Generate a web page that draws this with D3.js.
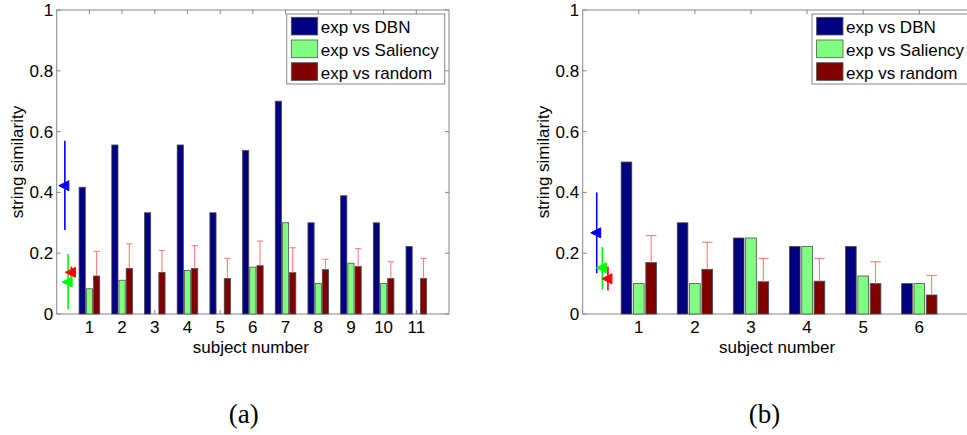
<!DOCTYPE html>
<html lang="en">
<head>
<meta charset="UTF-8">
<title>String similarity per subject</title>
<script src="https://cdnjs.cloudflare.com/ajax/libs/d3/7.8.5/d3.min.js"></script>
<style>
  body { margin: 0; background: #fff; }
  svg { display: block; font-family: "Liberation Sans", Arial, Helvetica, sans-serif; }
</style>
</head>
<body>
<svg id="chart" width="967" height="435"></svg>
<script>
// ---- data ----
const seriesNames = ["exp vs DBN", "exp vs Saliency", "exp vs random"];
const seriesColors = ["#000080", "#80ff80", "#800000"];
const markerColors = ["#0000ff", "#00ff00", "#ff0000"];
const yTicks = [0, 0.2, 0.4, 0.6, 0.8, 1];
const yTickLabels = ["0", "0.2", "0.4", "0.6", "0.8", "1"];

// panel (a)
const subjectsA = [1, 2, 3, 4, 5, 6, 7, 8, 9, 10, 11];
const dbnA = [0.417, 0.556, 0.333, 0.556, 0.333, 0.538, 0.700, 0.300, 0.389, 0.300, 0.222];
const salA = [0.083, 0.111, 0, 0.143, 0, 0.154, 0.300, 0.100, 0.167, 0.100, 0];
const rndA = [0.125, 0.150, 0.137, 0.150, 0.117, 0.159, 0.136, 0.146, 0.156, 0.117, 0.117];
const rndTopA = [0.206, 0.231, 0.209, 0.225, 0.183, 0.240, 0.218, 0.180, 0.215, 0.172, 0.183];
const meanA = [0.422, 0.105, 0.137];
const loA = [0.276, 0.015, 0.123];
const hiA = [0.570, 0.197, 0.156];

// panel (b)
const subjectsB = [1, 2, 3, 4, 5, 6];
const dbnB = [0.500, 0.300, 0.250, 0.222, 0.222, 0.100];
const salB = [0.100, 0.100, 0.250, 0.222, 0.125, 0.100];
const rndB = [0.169, 0.147, 0.106, 0.108, 0.100, 0.0625];
const rndTopB = [0.258, 0.236, 0.183, 0.183, 0.172, 0.127];
const meanB = [0.267, 0.152, 0.116];
const loB = [0.134, 0.081, 0.077];
const hiB = [0.400, 0.220, 0.156];

const markerX = [0.25, 0.35, 0.45];
const svg = d3.select("#chart");

function drawPanel(p) {
    const x = d3.scaleLinear().domain(p.xDomain).range(p.xRange);
    const y = d3.scaleLinear().domain([0, 1]).range([314, 10]);
    const g = svg.append("g");
    const x0 = p.xRange[0], x1 = p.xRange[1];
    const axisColor = "#858585";

    // box + ticks
    g.append("rect")
        .attr("x", x0).attr("y", y(1))
        .attr("width", x1 - x0).attr("height", y(0) - y(1))
        .attr("fill", "none").attr("stroke", axisColor).attr("stroke-width", 1);

    yTicks.forEach(t => {
        g.append("line").attr("x1", x0).attr("x2", x0 + 4)
            .attr("y1", y(t)).attr("y2", y(t)).attr("stroke", axisColor);
        g.append("line").attr("x1", x1).attr("x2", x1 - 4)
            .attr("y1", y(t)).attr("y2", y(t)).attr("stroke", axisColor);
    });
    g.selectAll("text.ytick")
        .data(yTicks)
        .enter().append("text")
        .attr("class", "ytick")
        .attr("x", x0 - 3.5)
        .attr("y", d => y(d) + 6)
        .attr("text-anchor", "end")
        .attr("font-size", 17)
        .text((d, i) => yTickLabels[i]);

    p.subjects.forEach(s => {
        g.append("line").attr("x1", x(s)).attr("x2", x(s))
            .attr("y1", y(1)).attr("y2", y(1) + 4).attr("stroke", axisColor);
        g.append("line").attr("x1", x(s)).attr("x2", x(s))
            .attr("y1", y(0)).attr("y2", y(0) - 4).attr("stroke", axisColor);
    });
    g.selectAll("text.xtick")
        .data(p.subjects)
        .enter().append("text")
        .attr("class", "xtick")
        .attr("x", d => x(d))
        .attr("y", 333)
        .attr("text-anchor", "middle")
        .attr("font-size", 17)
        .text(d => d);

    // grouped bars
    const offsets = [-0.22, 0, 0.22];
    const bw = 0.19;
    const groups = [p.dbn, p.sal, p.rnd];
    groups.forEach((vals, k) => {
        g.append("g").selectAll("rect")
            .data(vals)
            .enter().append("rect")
            .attr("x", (d, i) => x(p.subjects[i] + offsets[k] - bw / 2))
            .attr("y", d => y(d))
            .attr("width", x(bw) - x(0))
            .attr("height", d => y(0) - y(d))
            .attr("fill", seriesColors[k])
            .attr("stroke", d => d > 0 ? "#4d4d4d" : "none")
            .attr("stroke-width", 0.8);
    });

    // error bars on random
    const capW = (x(bw) - x(0)) * 0.5;
    p.rndTop.forEach((top, i) => {
        const cx = x(p.subjects[i] + offsets[2]);
        g.append("line").attr("x1", cx).attr("x2", cx)
            .attr("y1", y(p.rnd[i])).attr("y2", y(top))
            .attr("stroke", "#ff7f7f").attr("stroke-width", 1.1);
        g.append("line").attr("x1", cx - capW).attr("x2", cx + capW)
            .attr("y1", y(top)).attr("y2", y(top))
            .attr("stroke", "#ff7f7f").attr("stroke-width", 1.1);
    });

    // mean markers with ranges
    p.mean.forEach((m, k) => {
        const cx = x(markerX[k]);
        g.append("line").attr("x1", cx).attr("x2", cx)
            .attr("y1", y(p.lo[k])).attr("y2", y(p.hi[k]))
            .attr("stroke", markerColors[k]).attr("stroke-width", 1.6);
        const cy = y(m);
        g.append("path")
            .attr("d", `M${cx - 6},${cy} L${cx + 4},${cy - 5} L${cx + 4},${cy + 5} Z`)
            .attr("fill", markerColors[k])
            .attr("stroke", markerColors[k]).attr("stroke-width", 1);
    });

    // legend
    const lg = g.append("g").attr("transform", `translate(${p.legendX},14)`);
    lg.append("rect").attr("x", 0).attr("y", 0)
        .attr("width", 158).attr("height", 70)
        .attr("fill", "#fff").attr("stroke", axisColor).attr("stroke-width", 1);
    seriesNames.forEach((name, k) => {
        lg.append("rect")
            .attr("x", 4.6).attr("y", 3.3 + k * 22.7)
            .attr("width", 26.4).attr("height", 17.7)
            .attr("fill", seriesColors[k])
            .attr("stroke", "#555").attr("stroke-width", 0.8);
        lg.append("text")
            .attr("x", 34).attr("y", 19.3 + k * 22.7)
            .attr("font-size", 17)
            .text(name);
    });

    // axis titles
    const mid = (x0 + x1) / 2 - 2;
    g.append("text")
        .attr("x", mid).attr("y", 353)
        .attr("text-anchor", "middle")
        .attr("font-size", 17)
        .text("subject number");
    g.append("text")
        .attr("transform", `translate(${p.yLabelX},162) rotate(-90)`)
        .attr("text-anchor", "middle")
        .attr("font-size", 17)
        .text("string similarity");

    // caption
    svg.append("text")
        .attr("x", p.captionX).attr("y", 423)
        .attr("text-anchor", "middle")
        .attr("font-family", "'Liberation Serif', 'Times New Roman', serif")
        .attr("font-size", 27)
        .text(p.caption);
}

drawPanel({
    subjects: subjectsA, dbn: dbnA, sal: salA, rnd: rndA, rndTop: rndTopA,
    mean: meanA, lo: loA, hi: hiA,
    xDomain: [0, 12], xRange: [56.7, 449],
    legendX: 286.7, yLabelX: 22.5, captionX: 243.7, caption: "(a)"
});
drawPanel({
    subjects: subjectsB, dbn: dbnB, sal: salB, rnd: rndB, rndTop: rndTopB,
    mean: meanB, lo: loB, hi: hiB,
    xDomain: [0, 7], xRange: [582.7, 975.4],
    legendX: 812, yLabelX: 548.5, captionX: 764.5, caption: "(b)"
});
</script>
</body>
</html>
